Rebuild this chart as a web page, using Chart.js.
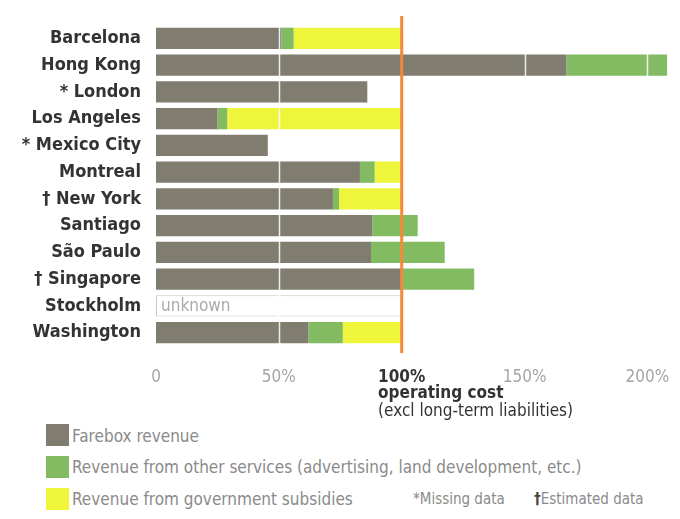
<!DOCTYPE html>
<html>
<head>
<meta charset="utf-8">
<script src="https://cdn.jsdelivr.net/npm/chart.js@4"></script>
<style>
  html, body { margin: 0; padding: 0; background: #fff; }
  #wrap { position: relative; width: 680px; height: 519px; }
  #chart { position: absolute; left: 0; top: 0; }
  .key { position: absolute; font-family: "Liberation Sans Narrow", "DejaVu Sans Condensed", sans-serif;
         font-size: 17px; color: #8a8a8a; white-space: nowrap; }
  .sw { position: absolute; width: 23px; height: 22px; }
</style>
</head>
<body>
<div id="wrap">
  <canvas id="chart" width="680" height="420"></canvas>
  <div class="sw" style="left:46px;top:424px;background:#807d70"></div>
  <div class="key" style="left:72px;top:426px">Farebox revenue</div>
  <div class="sw" style="left:46px;top:456px;background:#82bb62"></div>
  <div class="key" style="left:72px;top:457px">Revenue from other services (advertising, land development, etc.)</div>
  <div class="sw" style="left:46px;top:488px;background:#eef53a"></div>
  <div class="key" style="left:72px;top:489px">Revenue from government subsidies</div>
  <div class="key" style="left:413px;top:490px;font-size:15px">*Missing data</div>
  <div class="key" style="left:534px;top:490px;font-size:15px"><b style="color:#444">†</b>Estimated data</div>
</div>
<script>
// Share of operating cost covered, per city (percent)
const cities = ['Barcelona', 'Hong Kong', '* London', 'Los Angeles', '* Mexico City', 'Montreal',
    '† New York', 'Santiago', 'São Paulo', '† Singapore', 'Stockholm', 'Washington'];
const farebox   = [51, 167, 86, 25, 45.5, 83, 72, 88, 87.5, 100, null, 62];
const otherRev  = [5, 41, 0, 4, 0, 6, 2.5, 18.5, 30, 29.5, null, 14];
const subsidies = [44, 0, 0, 71, 0, 11, 25.5, 0, 0, 0, null, 24];
const unknown   = [null, null, null, null, null, null, null, null, null, null, 100, null];
const xTicks = [0, 50, 100, 150, 200];

const labelFont = '"Liberation Sans Narrow", "DejaVu Sans Condensed", sans-serif';

// white grid lines over the bars + orange 100% line + note under the 100% tick
const overlay = {
    id: 'overlay',
    afterDatasetsDraw(chart) {
        const { ctx, chartArea: a, scales: { x } } = chart;
        ctx.save();
        ctx.strokeStyle = 'rgba(255,255,255,0.85)';
        ctx.lineWidth = 1.5;
        [50, 150, 200].forEach(v => {
            const px = Math.round(x.getPixelForValue(v)) + 0.5;
            ctx.beginPath();
            ctx.moveTo(px, a.top);
            ctx.lineTo(px, a.bottom);
            ctx.stroke();
        });
        const px = x.getPixelForValue(100);
        ctx.strokeStyle = '#f5883a';
        ctx.lineWidth = 3;
        ctx.beginPath();
        ctx.moveTo(px, a.top - 9);
        ctx.lineTo(px, a.bottom + 7);
        ctx.stroke();
        ctx.restore();
    },
    afterDraw(chart) {
        const { ctx, scales: { x } } = chart;
        ctx.save();
        ctx.font = 'bold 17px ' + labelFont;
        const left = x.getPixelForValue(100) - ctx.measureText('100%').width / 2;
        ctx.fillStyle = '#333';
        ctx.textBaseline = 'middle';
        ctx.fillText('operating cost', left, 394);
        ctx.font = '17px ' + labelFont;
        ctx.fillText('(excl long-term liabilities)', left, 412);
        // "unknown" inside the Stockholm box
        const y = chart.scales.y.getPixelForValue(10);
        ctx.fillStyle = '#aaa';
        ctx.fillText('unknown', x.getPixelForValue(0) + 5, y + 1);
        ctx.restore();
    }
};

new Chart(document.getElementById('chart').getContext('2d'), {
    type: 'bar',
    data: {
        labels: cities,
        datasets: [
            { label: 'Farebox revenue', data: farebox, backgroundColor: '#807d70' },
            { label: 'Revenue from other services', data: otherRev, backgroundColor: '#82bb62' },
            { label: 'Revenue from government subsidies', data: subsidies, backgroundColor: '#eef53a' },
            { label: 'Unknown', data: unknown, backgroundColor: '#ffffff', borderColor: '#c8c8c8',
              borderWidth: 1, borderSkipped: false },
        ],
    },
    options: {
        indexAxis: 'y',
        responsive: false,
        animation: false,
        layout: { padding: { top: 25, right: 8, left: 0, bottom: 0 } },
        datasets: { bar: { categoryPercentage: 1, barPercentage: 0.8 } },
        plugins: { legend: { display: false }, tooltip: { enabled: false } },
        scales: {
            x: {
                stacked: true,
                min: 0,
                max: 210,
                afterBuildTicks: axis => { axis.ticks = xTicks.map(v => ({ value: v })); },
                grid: { display: false },
                border: { display: false },
                ticks: {
                    padding: 13,
                    maxRotation: 0,
                    font: c => c.tick && c.tick.value === 100
                        ? { family: labelFont, size: 17, weight: 'bold' }
                        : { family: labelFont, size: 17 },
                    color: c => c.tick && c.tick.value === 100 ? '#333' : '#a5a5a5',
                    callback: v => v === 0 ? '0' : v + '%',
                },
                afterFit: axis => {
                    axis.height = 74;
                    axis.paddingLeft = 0;
                    axis.paddingRight = 0;
                },
            },
            y: {
                stacked: true,
                grid: { display: false },
                border: { display: false },
                ticks: {
                    padding: 7,
                    color: '#333',
                    font: { family: labelFont, size: 18, weight: 'bold' },
                },
                afterFit: axis => { axis.width = 156; },
            },
        },
    },
    plugins: [overlay],
});
</script>
</body>
</html>
